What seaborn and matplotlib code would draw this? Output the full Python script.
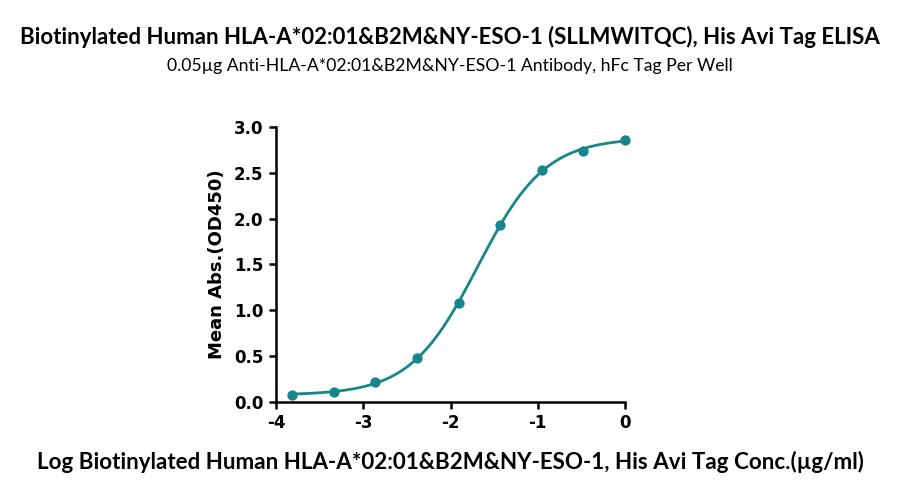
import numpy as np
import pandas as pd
import matplotlib
matplotlib.use("Agg")
import matplotlib.pyplot as plt
import seaborn as sns

# Data (log10 concentration, µg/ml) and mean OD450
log_conc = [-3.817, -3.340, -2.863, -2.386, -1.908, -1.431, -0.954, -0.477, 0.0]
od450 = [0.080, 0.109, 0.214, 0.479, 1.077, 1.933, 2.528, 2.740, 2.860]
x_ticks = [-4, -3, -2, -1, 0]
y_ticks = [0.0, 0.5, 1.0, 1.5, 2.0, 2.5, 3.0]

title = "Biotinylated Human HLA-A*02:01&B2M&NY-ESO-1 (SLLMWITQC), His Avi Tag ELISA"
subtitle = "0.05µg Anti-HLA-A*02:01&B2M&NY-ESO-1 Antibody, hFc Tag Per Well"
xlabel = "Log Biotinylated Human HLA-A*02:01&B2M&NY-ESO-1, His Avi Tag Conc.(µg/ml)"
ylabel = "Mean Abs.(OD450)"

color = "#17868a"

df = pd.DataFrame({"logc": log_conc, "od": od450})

# 4-parameter logistic fit (LM with numerical jacobian)
def f4(p, x):
    bot, top, ec, hill = p
    return bot + (top - bot) / (1 + 10 ** ((ec - x) * hill))

x = np.array(log_conc)
y = np.array(od450)
p = np.array([0.05, 2.9, -1.7, 1.2])
lam = 1e-3
for _ in range(200):
    r = y - f4(p, x)
    J = np.zeros((len(x), 4))
    for k in range(4):
        dp = np.zeros(4); dp[k] = 1e-6
        J[:, k] = (f4(p + dp, x) - f4(p - dp, x)) / 2e-6
    A = J.T @ J
    step = np.linalg.solve(A + lam * np.diag(np.diag(A)), J.T @ r)
    pn = p + step
    if np.sum((y - f4(pn, x)) ** 2) < np.sum(r ** 2):
        p = pn; lam *= 0.5
    else:
        lam *= 4
xf = np.linspace(min(log_conc), max(log_conc), 300)
fit = pd.DataFrame({"logc": xf, "od": f4(p, xf)})

sns.set_theme(style="ticks")
plt.rcParams["font.family"] = ["DejaVu Sans"]
plt.rcParams["text.color"] = "black"
plt.rcParams["axes.labelcolor"] = "black"
plt.rcParams["xtick.color"] = "black"
plt.rcParams["ytick.color"] = "black"

fig = plt.figure(figsize=(9, 4.93), dpi=100)
ax = fig.add_axes([0.3067, 0.1846, 0.3878, 0.5578])

sns.lineplot(data=fit, x="logc", y="od", ax=ax, color=color, linewidth=2.0)
sns.scatterplot(data=df, x="logc", y="od", ax=ax, color=color, s=55,
                edgecolor=color, linewidth=0, zorder=3, clip_on=False)

ax.set_xlim(-4, 0)
ax.set_ylim(0, 3)
ax.set_xticks(x_ticks)
ax.set_yticks(y_ticks)
ax.set_xticklabels([str(t) for t in x_ticks])
ax.set_yticklabels([f"{t:.1f}" for t in y_ticks])
for lab in ax.get_xticklabels() + ax.get_yticklabels():
    lab.set_fontweight("bold")
    lab.set_fontsize(12)
ax.tick_params(axis="both", width=1.8, length=5, color="black", pad=4)
for s in ["left", "bottom"]:
    ax.spines[s].set_linewidth(1.8)
    ax.spines[s].set_color("black")
sns.despine(ax=ax)

ax.set_xlabel("")
ax.set_ylabel(ylabel, fontsize=13, fontweight="bold", labelpad=6)

fam = ["Lato", "DejaVu Sans"]
fig.text(0.5, 0.925, title, ha="center", va="center", fontsize=16,
         fontweight="bold", family=fam)
fig.text(0.5, 0.866, subtitle, ha="center", va="center", fontsize=12.7,
         family=fam)
fig.text(0.5, 0.063, xlabel, ha="center", va="center", fontsize=16.1,
         fontweight="bold", family=fam)

fig.savefig("out.png", dpi=100)
